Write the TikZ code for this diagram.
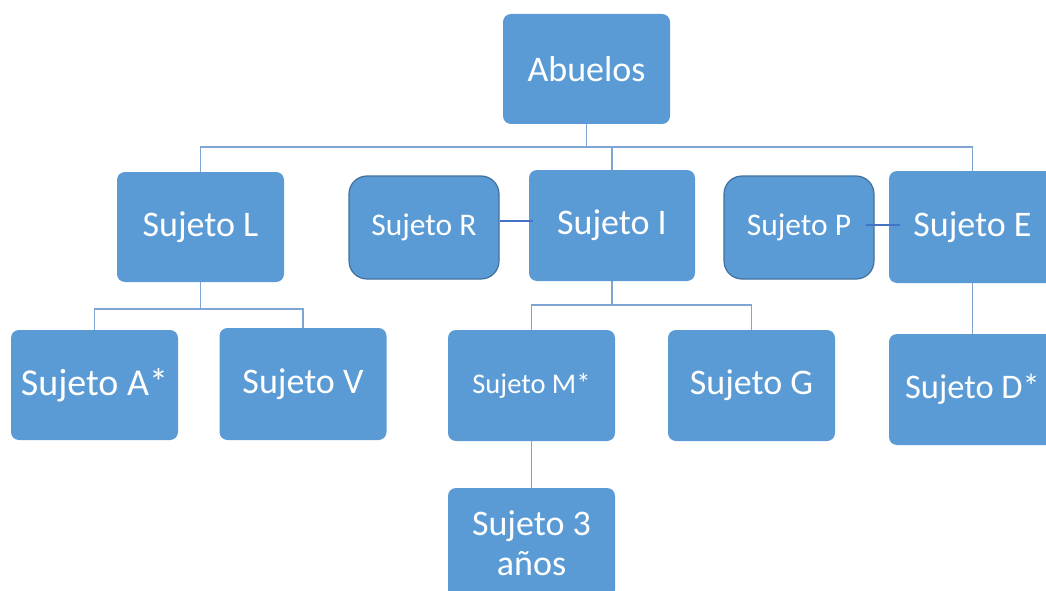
\documentclass[tikz,border=0pt]{standalone}
\usepackage{fontspec}
\setmainfont{Carlito}
\definecolor{boxblue}{HTML}{5B9BD5}
\definecolor{linkblue}{HTML}{7FA6D3}
\definecolor{edgeblue}{HTML}{41719C}
\definecolor{darklink}{HTML}{4472C4}
\tikzset{
  box/.style={fill=boxblue, rounded corners=8pt, minimum width=167pt, minimum height=110pt, inner sep=0pt, text=white, font=\fontsize{36}{40}\selectfont, align=center},
  sidebox/.style={fill=boxblue, draw=edgeblue, line width=1.2pt, rounded corners=18pt, minimum width=150pt, minimum height=103pt, inner sep=0pt, text=white, font=\fontsize{31.5}{36}\selectfont},
  link/.style={draw=linkblue, line width=1.3pt},
  partner/.style={draw=darklink, line width=2pt}
}
\begin{document}
\begin{tikzpicture}[x=1pt,y=-1pt]
\useasboundingbox (0,0) rectangle (1046,591);
\clip (0,0) rectangle (1046,591);
\fill[white] (0,0) rectangle (1046,591);
\coordinate (b1) at (0,147);
\coordinate (b2) at (0,309);
\coordinate (b3) at (0,305);
\node[box] (Ab) at (586.5,69) {Abuelos};
\node[box] (L) at (200.5,227) {Sujeto L};
\node[sidebox] (R) at (424,227.5) {Sujeto R};
\node[box, minimum width=166pt, minimum height=111pt] (I) at (612,225.5) {Sujeto I};
\node[sidebox] (P) at (799,227.5) {Sujeto P};
\node[box, minimum height=112pt] (E) at (972.5,227) {Sujeto E};
\node[box, font=\fontsize{38}{42}\selectfont] (A) at (94.5,385) {Sujeto A*};
\node[box, minimum height=112pt] (V) at (303,384) {Sujeto V};
\node[box, minimum height=111pt, font=\fontsize{28.5}{32}\selectfont] (M) at (531.5,385.5) {Sujeto M*};
\node[box, minimum height=111pt] (G) at (751.5,385.5) {Sujeto G};
\node[box, minimum height=111pt, font=\fontsize{34.5}{38}\selectfont] (D) at (972.5,389.5) {Sujeto D*};
\node[box] (T) at (531.5,543) {Sujeto 3\\años};
% tree connectors
\draw[link] (L.north) |- (E.north |- b1) -- (E.north);
\draw[link] (Ab.south) -- (Ab.south |- b1);
\draw[link] (I.north) -- (I.north |- b1);
\draw[link] (L.south) -- (L.south |- b2);
\draw[link] (A.north) |- (V.north |- b2) -- (V.north);
\draw[link] (I.south) -- (I.south |- b3);
\draw[link] (M.north) |- (G.north |- b3) -- (G.north);
\draw[link] (E.south) -- (D.north);
\draw[link] (M.south) -- (T.north);
% partner links
\draw[partner] ([yshift=6.5pt]R.east) -- ([xshift=4pt,yshift=4.5pt]I.west);
\draw[partner] ([xshift=-9pt,yshift=2.5pt]P.east) -- ([xshift=11pt,yshift=2pt]E.west);
\end{tikzpicture}
\end{document}
